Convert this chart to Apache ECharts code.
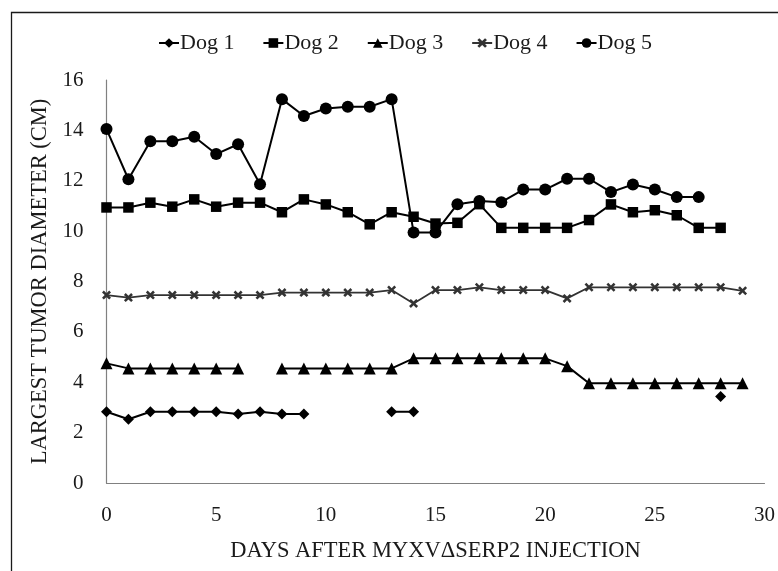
<!DOCTYPE html>
<html>
<head>
<meta charset="utf-8">
<script src="https://cdn.jsdelivr.net/npm/echarts@6/dist/echarts.min.js"></script>
<style>html,body{margin:0;padding:0;background:#fff;}#c{width:778px;height:571px;}</style>
</head>
<body>
<div id="c"></div>
<script>
const days = [0,1,2,3,4,5,6,7,8,9,10,11,12,13,14,15,16,17,18,19,20,21,22,23,24,25,26,27,28,29];
const seriesNames = ['Dog 1','Dog 2','Dog 3','Dog 4','Dog 5'];
const dog1 = [2.83,2.53,2.83,2.83,2.83,2.83,2.74,2.83,2.74,2.74,null,null,null,2.83,2.83,null,null,null,null,null,null,null,null,null,null,null,null,null,3.43,null];
const dog2 = [10.94,10.94,11.13,10.97,11.26,10.97,11.13,11.13,10.75,11.26,11.06,10.75,10.27,10.75,10.57,10.3,10.33,11.07,10.13,10.13,10.13,10.13,10.44,11.06,10.75,10.83,10.63,10.13,10.13,null];
const dog3 = [4.75,4.55,4.55,4.55,4.55,4.55,4.55,null,4.55,4.55,4.55,4.55,4.55,4.55,4.95,4.95,4.95,4.95,4.95,4.95,4.95,4.64,3.96,3.96,3.96,3.96,3.96,3.96,3.96,3.96];
const dog4 = [7.46,7.36,7.46,7.46,7.46,7.46,7.46,7.46,7.56,7.56,7.56,7.56,7.56,7.66,7.13,7.66,7.66,7.77,7.66,7.66,7.66,7.33,7.77,7.77,7.77,7.77,7.77,7.77,7.77,7.63];
const dog5 = [14.05,12.06,13.57,13.57,13.75,13.06,13.45,11.86,15.24,14.57,14.87,14.94,14.94,15.24,9.95,9.95,11.07,11.2,11.15,11.65,11.65,12.08,12.08,11.55,11.85,11.65,11.35,11.35,null,null];
const yTicks = [0,2,4,6,8,10,12,14,16];
const xTicks = [0,5,10,15,20,25,30];

const FONT = '"Liberation Serif", "DejaVu Serif", serif';
const xMark = 'path://M0,2L2,0L5,3L8,0L10,2L7,5L10,8L8,10L5,7L2,10L0,8L3,5Z';
const pair = v => days.map((d, i) => [d, v[i] == null ? '-' : v[i]]);

const styles = [
  {data: dog1, symbol: 'diamond', size: 11, color: '#000', width: 2},
  {data: dog2, symbol: 'rect', size: 10.5, color: '#000', width: 2},
  {data: dog3, symbol: 'triangle', size: 12, color: '#000', width: 2},
  {data: dog4, symbol: xMark, size: 9, color: '#333', width: 1.8},
  {data: dog5, symbol: 'circle', size: 12, color: '#000', width: 2}
];

const chart = echarts.init(document.getElementById('c'), null, {renderer: 'canvas'});
chart.setOption({
  animation: false,
  backgroundColor: '#fff',
  graphic: [{
    type: 'rect', silent: true, z: -1,
    shape: {x: 11.5, y: 12.5, width: 820, height: 620},
    style: {fill: 'none', stroke: '#1a1a1a', lineWidth: 1.3}
  }],
  legend: {
    top: 27, left: 153,
    itemWidth: 20, itemHeight: 12, itemGap: 28,
    textStyle: {fontFamily: FONT, fontSize: 22, color: '#1a1a1a', padding: [0, 0, 0, -4]},
    data: seriesNames
  },
  grid: {left: 106.5, right: 11, top: 80, bottom: 88, containLabel: false},
  xAxis: {
    type: 'value', min: 0, max: 30, interval: 5,
    name: 'DAYS AFTER MYXV\u0394SERP2 INJECTION',
    nameLocation: 'middle', nameGap: 57,
    nameTextStyle: {fontFamily: FONT, fontSize: 22.5, color: '#1a1a1a'},
    axisLine: {lineStyle: {color: '#808080', width: 1.2}},
    axisTick: {show: false},
    splitLine: {show: false},
    axisLabel: {fontFamily: FONT, fontSize: 21, color: '#1a1a1a', margin: 22,
      formatter: v => xTicks.includes(v) ? String(v) : ''}
  },
  yAxis: {
    type: 'value', min: 0, max: 16, interval: 2,
    name: 'LARGEST TUMOR DIAMETER (CM)',
    nameLocation: 'middle', nameGap: 50,
    nameTextStyle: {fontFamily: FONT, fontSize: 22.5, color: '#1a1a1a'},
    axisLine: {show: true, lineStyle: {color: '#808080', width: 1.2}},
    axisTick: {show: false},
    splitLine: {show: false},
    axisLabel: {fontFamily: FONT, fontSize: 21, color: '#1a1a1a', margin: 23,
      formatter: v => yTicks.includes(v) ? String(v) : ''}
  },
  series: styles.map((s, i) => ({
    name: seriesNames[i],
    type: 'line',
    data: pair(s.data),
    connectNulls: false,
    symbol: s.symbol,
    symbolSize: s.size,
    showAllSymbol: true,
    showSymbol: true,
    lineStyle: {color: s.color, width: s.width},
    itemStyle: {color: s.color},
    emphasis: {disabled: true}
  }))
});
</script>
</body>
</html>
